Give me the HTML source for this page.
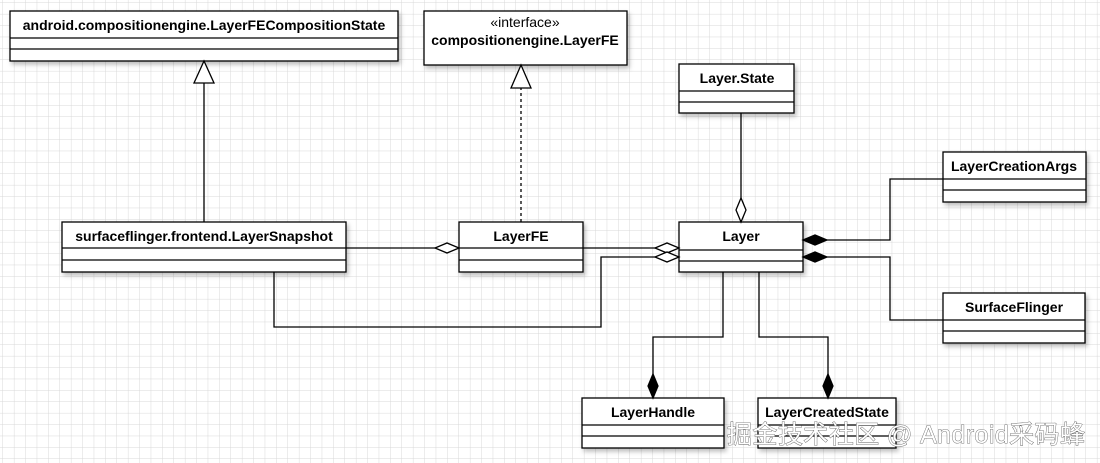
<!DOCTYPE html>
<html><head><meta charset="utf-8"><style>
body{margin:0;width:1100px;height:463px;overflow:hidden;background:#fff}
svg{display:block}
text{font-family:"Liberation Sans",sans-serif;font-weight:bold;font-size:14px;fill:#000}
</style></head><body>
<svg width="1100" height="463" xmlns="http://www.w3.org/2000/svg">
<defs>
<pattern id="g" width="11.4" height="11.4" patternUnits="userSpaceOnUse" x="3" y="3">
<path d="M11.4 0V11.4M0 11.4H11.4" stroke="#d8d8d8" stroke-width="1" fill="none"/>
</pattern>
<filter id="sh"><feDropShadow dx="2" dy="3" stdDeviation="2" flood-opacity="0.25"/></filter>
</defs>
<rect width="1100" height="463" fill="url(#g)"/>
<g fill="#fff" stroke="#000" stroke-width="1.3">
<g filter="url(#sh)">
<rect x="10" y="11" width="388" height="50"/>
<rect x="424" y="11" width="203" height="54"/>
<rect x="679" y="64" width="115" height="49"/>
<rect x="943" y="152" width="143" height="50"/>
<rect x="62" y="222" width="284" height="50"/>
<rect x="459" y="222" width="124" height="50"/>
<rect x="679" y="222" width="124" height="50"/>
<rect x="943" y="293" width="142" height="50"/>
<rect x="582" y="398" width="142" height="50"/>
<rect x="758" y="398" width="138" height="50"/>
</g>
<path fill="none" d="M10 38H398M10 49H398M679 91H794M679 102H794M943 179H1086M943 190H1086M62 248H346M62 260H346M459 248H583M459 260H583M679 250H803M679 261H803M943 320H1085M943 331H1085M582 425H724M582 436H724M758 425H896M758 436H896"/>
<path fill="none" d="M204 83V222M346 248H435M583 248H655M274 272V327H601V257H655M741 113V198M827 240H890V179H943M827 257H890V320H943M723 272V337H653V374M759 272V337H828V374"/>
<path fill="none" stroke-dasharray="3,3" d="M521 222V88"/>
<path d="M204 61L194 83H214Z"/>
<path d="M521 65L511 88H531Z"/>
<path d="M459 248L447 243L435 248L447 253Z"/>
<path d="M679 248L667 243L655 248L667 253Z"/>
<path d="M679 257L667 252L655 257L667 262Z"/>
<path d="M741 222L736 210L741 198L746 210Z"/>
<path fill="#000" d="M803 240L815 235L827 240L815 245Z"/>
<path fill="#000" d="M803 257L815 252L827 257L815 262Z"/>
<path fill="#000" d="M653 398L648 386L653 374L658 386Z"/>
<path fill="#000" d="M828 398L823 386L828 374L833 386Z"/>
</g>
<text x="204" y="30" text-anchor="middle">android.compositionengine.LayerFECompositionState</text>
<text x="525" y="27" text-anchor="middle" style="font-weight:normal">«interface»</text>
<text x="525" y="45" text-anchor="middle">compositionengine.LayerFE</text>
<text x="737" y="83" text-anchor="middle">Layer.State</text>
<text x="1014" y="171" text-anchor="middle">LayerCreationArgs</text>
<text x="204" y="241" text-anchor="middle">surfaceflinger.frontend.LayerSnapshot</text>
<text x="521" y="241" text-anchor="middle">LayerFE</text>
<text x="741" y="241" text-anchor="middle">Layer</text>
<text x="1014" y="312" text-anchor="middle">SurfaceFlinger</text>
<text x="653" y="417" text-anchor="middle">LayerHandle</text>
<text x="827" y="417" text-anchor="middle">LayerCreatedState</text>
<text x="727" y="443" textLength="358" style="font-family:'Liberation Sans','Noto Sans CJK SC',sans-serif;font-weight:normal;font-size:25px;fill:#fff;stroke:#555;stroke-width:0.8;paint-order:stroke">掘金技术社区 @ Android采码蜂</text>
</svg>
</body></html>
